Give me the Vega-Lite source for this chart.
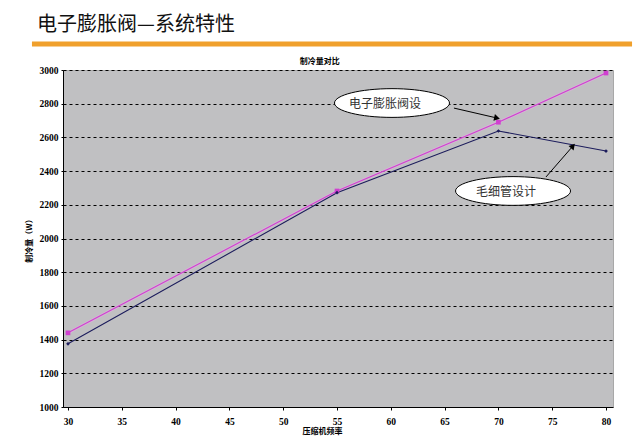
{
  "$schema": "https://vega.github.io/schema/vega-lite/v6.json",
  "width": 550,
  "height": 337,
  "autosize": {"type": "none"},
  "padding": {"left": 63, "top": 70, "right": 27, "bottom": 33},
  "background": "white",
  "title": {
    "text": "电子膨胀阀—系统特性",
    "anchor": "start",
    "dx": 12,
    "offset": 7,
    "font": "Noto Sans CJK SC",
    "fontSize": 20,
    "fontWeight": "normal",
    "color": "#111111"
  },
  "config": {
    "view": {"fill": "#c0c0c2", "stroke": "#a8a8a8"},
    "axis": {
      "labelFont": "Liberation Serif",
      "labelFontWeight": "bold",
      "labelFontSize": 9.5,
      "labelColor": "#000000",
      "labelOverlap": false,
      "format": "d",
      "titleFont": "Noto Sans CJK SC",
      "titleFontWeight": "bold",
      "titleFontSize": 8,
      "titleColor": "#000000",
      "domainColor": "#000000",
      "tickColor": "#000000"
    }
  },
  "datasets": {
    "series": [
      {"freq": 30, "cap": 1440, "series": "电子膨胀阀设计"},
      {"freq": 55, "cap": 2282, "series": "电子膨胀阀设计"},
      {"freq": 70, "cap": 2690, "series": "电子膨胀阀设计"},
      {"freq": 80, "cap": 2982, "series": "电子膨胀阀设计"},
      {"freq": 30, "cap": 1375, "series": "毛细管设计"},
      {"freq": 55, "cap": 2272, "series": "毛细管设计"},
      {"freq": 70, "cap": 2638, "series": "毛细管设计"},
      {"freq": 80, "cap": 2519, "series": "毛细管设计"}
    ],
    "callouts": [
      {"label": "电子膨胀阀设", "cx": 60.11, "cy": 2804, "tx": 59.46, "ty": 2798, "ax": 65.87, "ay": 2774, "bx": 69.87, "by": 2715, "ang": 103},
      {"label": "毛细管设计", "cx": 71.36, "cy": 2282, "tx": 70.71, "ty": 2276, "ax": 74.42, "ay": 2365, "bx": 76.93, "by": 2549, "ang": 41}
    ],
    "decor": [
      {"x1": 26.65, "x2": 82.42, "y": 3154, "cx": 53.4, "cy": 3047, "name": "制冷量对比"}
    ]
  },
  "layer": [
    {
      "data": {"name": "decor"},
      "mark": {"type": "rule", "color": "#f0a02c", "strokeWidth": 5, "clip": false},
      "encoding": {
        "x": {
          "field": "x1", "type": "quantitative",
          "scale": {"domain": [29.535, 80.65], "nice": false, "zero": false},
          "axis": {"values": [30, 35, 40, 45, 50, 55, 60, 65, 70, 75, 80], "tickCount": 12, "title": "压缩机频率", "tickSize": 3, "labelPadding": 6, "titlePadding": 2, "grid": false, "titleX": 259, "labelOverlap": false}
        },
        "x2": {"field": "x2"},
        "y": {
          "field": "y", "type": "quantitative",
          "scale": {"domain": [1000, 3000], "nice": false, "zero": false},
          "axis": {"values": [1000, 1200, 1400, 1600, 1800, 2000, 2200, 2400, 2600, 2800, 3000], "tickCount": 12, "title": "制冷量（W）", "tickSize": 2, "labelPadding": 3, "grid": true, "gridColor": "#000000", "gridDash": [3, 3], "gridWidth": 1, "titlePadding": 6, "labelOverlap": false}
        }
      }
    },
    {
      "data": {"name": "decor"},
      "mark": {"type": "text", "font": "Noto Sans CJK SC", "fontWeight": "bold", "fontSize": 8, "color": "#000000", "clip": false, "baseline": "middle"},
      "encoding": {
        "x": {"field": "cx", "type": "quantitative"},
        "y": {"field": "cy", "type": "quantitative"},
        "text": {"field": "name"}
      }
    },
    {
      "data": {"name": "series"},
      "mark": {"type": "line", "strokeWidth": 3, "opacity": 0.45},
      "transform": [{"filter": "datum.series === '电子膨胀阀设计'"}],
      "encoding": {
        "x": {"field": "freq", "type": "quantitative"},
        "y": {"field": "cap", "type": "quantitative"},
        "color": {"value": "#e8a8e8"}
      }
    },
    {
      "data": {"name": "series"},
      "mark": {"type": "line", "strokeWidth": 1.1},
      "encoding": {
        "x": {"field": "freq", "type": "quantitative"},
        "y": {"field": "cap", "type": "quantitative"},
        "color": {"field": "series", "type": "nominal", "scale": {"domain": ["电子膨胀阀设计", "毛细管设计"], "range": ["#d040d0", "#1c1c5c"]}, "legend": null}
      }
    },
    {
      "data": {"name": "series"},
      "mark": {"type": "point", "filled": true, "opacity": 1},
      "encoding": {
        "x": {"field": "freq", "type": "quantitative"},
        "y": {"field": "cap", "type": "quantitative"},
        "color": {"field": "series", "type": "nominal", "legend": null},
        "shape": {"field": "series", "type": "nominal", "scale": {"domain": ["电子膨胀阀设计", "毛细管设计"], "range": ["square", "diamond"]}, "legend": null},
        "size": {"field": "series", "type": "nominal", "scale": {"domain": ["电子膨胀阀设计", "毛细管设计"], "range": [22, 14]}, "legend": null}
      }
    },
    {
      "data": {"name": "callouts"},
      "mark": {"type": "rule", "color": "#000000", "strokeWidth": 1},
      "encoding": {
        "x": {"field": "ax", "type": "quantitative"},
        "y": {"field": "ay", "type": "quantitative"},
        "x2": {"field": "bx"},
        "y2": {"field": "by"}
      }
    },
    {
      "data": {"name": "callouts"},
      "mark": {"type": "point", "shape": "triangle-up", "filled": true, "color": "#000000", "size": 45, "opacity": 1},
      "encoding": {
        "x": {"field": "bx", "type": "quantitative"},
        "y": {"field": "by", "type": "quantitative"},
        "angle": {"field": "ang", "type": "quantitative", "scale": null}
      }
    },
    {
      "data": {"name": "callouts"},
      "mark": {"type": "point", "shape": "M -1 0 A 1 0.25 0 1 0 1 0 A 1 0.25 0 1 0 -1 0 Z", "filled": true, "fill": "#ffffff", "stroke": "#000000", "strokeWidth": 1, "size": 13225, "opacity": 1},
      "encoding": {
        "x": {"field": "cx", "type": "quantitative"},
        "y": {"field": "cy", "type": "quantitative"}
      }
    },
    {
      "data": {"name": "callouts"},
      "mark": {"type": "text", "font": "Noto Sans CJK SC", "fontSize": 12, "color": "#333333", "baseline": "middle"},
      "encoding": {
        "x": {"field": "tx", "type": "quantitative"},
        "y": {"field": "ty", "type": "quantitative"},
        "text": {"field": "label"}
      }
    }
  ]
}
